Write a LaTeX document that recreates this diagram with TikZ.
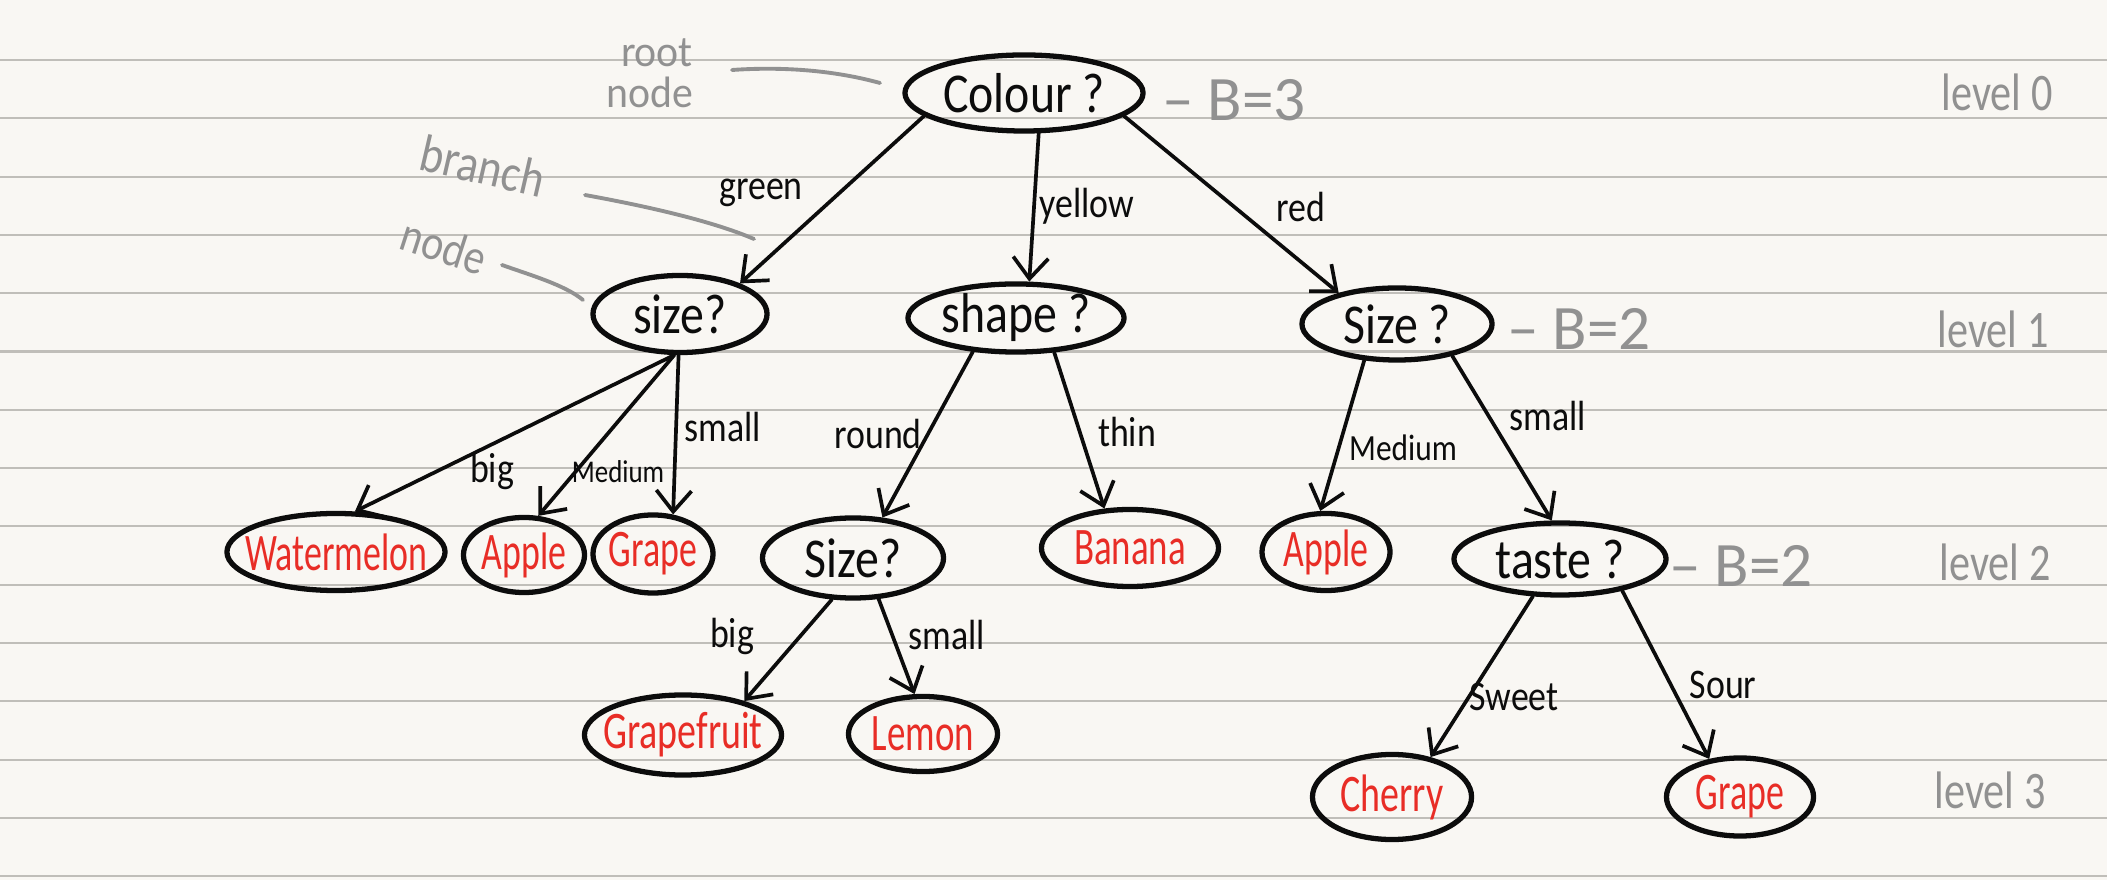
\documentclass[tikz,border=0pt]{standalone}
\usepackage{fontspec}
\newfontfamily\hand{Carlito}
\usetikzlibrary{shapes.geometric,arrows.meta}
\definecolor{paper}{RGB}{249,247,243}
\definecolor{rulec}{RGB}{192,190,185}
\definecolor{ink}{RGB}{12,12,12}
\definecolor{redink}{RGB}{232,45,38}
\definecolor{grayink}{RGB}{145,145,145}
\newcommand\sx[2][0.85]{\scalebox{#1}[1]{#2}}
\newcommand\nx[2][0.85]{\makebox[0pt]{\scalebox{#1}[1]{#2}}}
\begin{document}
\begin{tikzpicture}[x=0.01cm,y=-0.01cm,line join=round,
  qbox/.style={ellipse,draw=ink,line width=1.5pt,inner sep=0pt,text=ink,
    font=\hand\fontsize{16}{18}\selectfont},
  leafbox/.style={qbox,text=redink,font=\hand\fontsize{15}{17}\selectfont},
  edgelab/.style={inner sep=0pt,text=ink,font=\hand\fontsize{12}{13}\selectfont},
  note/.style={inner sep=0pt,text=grayink,font=\hand\fontsize{15}{16}\selectfont},
  link/.style={draw=ink,line width=1.05pt,line cap=round,-{Straight Barb[length=6pt,width=10pt]}},
  pointer/.style={draw=grayink,line width=1.1pt,line cap=round},
  rulestyle/.style={draw=rulec,line width=0.6pt}]
\useasboundingbox (0,0) rectangle (2107,880);
\fill[paper] (0,0) rectangle (2107,880);
\foreach \k in {0,...,14} \draw[rulestyle] (0,{60+58.3*\k}) -- (2107,{60+58.3*\k});

% question nodes
\node[qbox,minimum width=2.38cm,minimum height=0.76cm] (colour) at (1024,93) {\nx{Colour ?}};
\node[qbox,minimum width=1.74cm,minimum height=0.77cm] (sizeL) at (680,314) {\nx{size?}};
\node[qbox,minimum width=2.16cm,minimum height=0.67cm] (shape) at (1016,318) {\nx{shape ?}};
\node[qbox,minimum width=1.90cm,minimum height=0.72cm] (sizeR) at (1397,324) {\nx{Size ?}};
\node[qbox,minimum width=1.81cm,minimum height=0.80cm] (sizeM) at (853,558) {\nx{Size?}};
\node[qbox,minimum width=2.12cm,minimum height=0.72cm] (taste) at (1560,559) {\nx{taste ?}};

% leaves
\node[leafbox,minimum width=2.18cm,minimum height=0.77cm] (water) at (336,552) {\nx[0.68]{Watermelon}};
\node[leafbox,minimum width=1.21cm,minimum height=0.75cm] (appleL) at (524,555) {\nx[0.68]{Apple}};
\node[leafbox,minimum width=1.20cm,minimum height=0.78cm] (grapeL) at (653,554) {\nx[0.68]{Grape}};
\node[leafbox,minimum width=1.77cm,minimum height=0.77cm] (banana) at (1130,548) {\nx[0.7]{Banana}};
\node[leafbox,minimum width=1.28cm,minimum height=0.77cm] (appleR) at (1326,552) {\nx[0.68]{Apple}};
\node[leafbox,minimum width=1.97cm,minimum height=0.80cm] (gfruit) at (683,735) {\nx[0.72]{Grapefruit}};
\node[leafbox,minimum width=1.49cm,minimum height=0.75cm] (lemon) at (923,734) {\nx[0.7]{Lemon}};
\node[leafbox,minimum width=1.59cm,minimum height=0.85cm] (cherry) at (1392,797) {\nx[0.72]{Cherry}};
\node[leafbox,minimum width=1.47cm,minimum height=0.78cm] (grapeR) at (1740,797) {\nx[0.68]{Grape}};

% edges
\draw[link] (colour.193) -- (sizeL.27);
\draw[link] (colour.-70) -- (shape.70);
\draw[link] (colour.-13) -- (sizeR.152);
\draw[link] (sizeL.-98) -- (water.65);
\draw[link] (sizeL.-98) -- (appleL.70);
\draw[link] (sizeL.-92) -- (grapeL.63);
\draw[link] (shape.-142) -- (sizeM.54);
\draw[link] (shape.-42) -- (banana.123);
\draw[link] (sizeR.-132) -- (appleR.98);
\draw[link] (sizeR.-30) -- (taste.102);
\draw[link] (sizeM.-117) -- (gfruit.29);
\draw[link] (sizeM.-58) -- (lemon.102);
\draw[link] (taste.-126) -- (cherry.46);
\draw[link] (taste.-27) -- (grapeR.129);

% edge labels
\node[edgelab] (lgreen) at (761,193) {\sx{green}};
\node[edgelab] (lyellow) at (1087,206) {\sx{yellow}};
\node[edgelab] (lred) at (1301,207) {\sx{red}};
\node[edgelab] (lbig) at (492,471) {\sx{big}};
\node[edgelab,font=\hand\fontsize{9}{10}\selectfont] (lmedL) at (618,472) {\sx{Medium}};
\node[edgelab] (lsmallL) at (723,427) {\sx{small}};
\node[edgelab] (lround) at (878,434) {\sx{round}};
\node[edgelab] (lthin) at (1127,432) {\sx{thin}};
\node[edgelab,font=\hand\fontsize{10.5}{11}\selectfont] (lmedR) at (1403,448) {\sx{Medium}};
\node[edgelab] (lsmallR) at (1548,416) {\sx{small}};
\node[edgelab] (lbigM) at (732,636) {\sx{big}};
\node[edgelab] (lsmallM) at (947,635) {\sx{small}};
\node[edgelab] (lsweet) at (1514,697) {\sx{Sweet}};
\node[edgelab] (lsour) at (1723,685) {\sx{Sour}};

% branching factor notes
\node[note,font=\hand\fontsize{18}{20}\selectfont] (b3) at (1234,100) {– B=3};
\node[note,font=\hand\fontsize{18}{20}\selectfont] (b2a) at (1579,329) {– B=2};
\node[note,font=\hand\fontsize{18}{20}\selectfont] (b2b) at (1741,566) {– B=2};

% level notes
\node[note] (lv0) at (1997,92) {\sx[0.8]{level 0}};
\node[note] (lv1) at (1993,329) {\sx[0.8]{level 1}};
\node[note] (lv2) at (1995,562) {\sx[0.8]{level 2}};
\node[note] (lv3) at (1990,790) {\sx[0.8]{level 3}};

% annotations
\node[note,font=\hand\fontsize{12.5}{14}\selectfont,anchor=base] (rootword) at (657,67) {\sx[0.95]{root}};
\node[note,font=\hand\fontsize{12.5}{14}\selectfont,anchor=base] (nodeword) at (650,108) {\sx[0.95]{node}};
\node[note,rotate=-13] (branchnote) at (483,166) {\sx{branch}};
\node[note,font=\hand\fontsize{14}{15}\selectfont,rotate=-18] (nodenote) at (444,246) {\sx{node}};
\coordinate (rootA) at (732,70);
\coordinate (rootB) at (880,83);
\draw[pointer] (rootA) .. controls (790,66) and (840,72) .. (rootB);
\coordinate (brA) at (585,195);
\coordinate (brB) at (754,239);
\draw[pointer] (brA) .. controls (640,205) and (710,220) .. (brB);
\coordinate (ndA) at (502,265);
\coordinate (ndB) at (583,300);
\draw[pointer] (ndA) .. controls (530,275) and (565,285) .. (ndB);
\end{tikzpicture}
\end{document}
